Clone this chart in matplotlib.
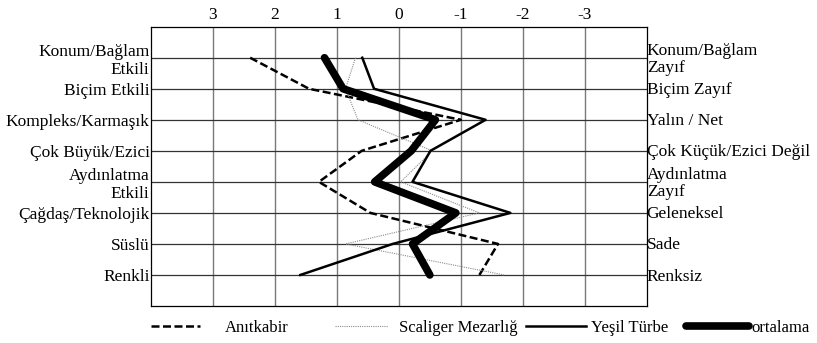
import matplotlib
matplotlib.use("Agg")
import matplotlib.pyplot as plt
import numpy as np

plt.rcParams.update({
    "font.family": ["Liberation Serif", "DejaVu Serif"],
    "font.size": 12.5,
})

LEFT_LABELS = ["Konum/Bağlam\nEtkili", "Biçim Etkili", "Kompleks/Karmaşık",
               "Çok Büyük/Ezici", "Aydınlatma\nEtkili", "Çağdaş/Teknolojik",
               "Süslü", "Renkli"]
RIGHT_LABELS = ["Konum/Bağlam\nZayıf", "Biçim Zayıf", "Yalın / Net",
                "Çok Küçük/Ezici Değil", "Aydınlatma\nZayıf", "Geleneksel",
                "Sade", "Renksiz"]
SCALE = [3, 2, 1, 0, -1, -2, -3]
SERIES = ["Anıtkabir", "Scaliger Mezarlığ", "Yeşil Türbe", "ortalama"]

# scores per adjective pair (positive = left adjective)
anitkabir = [2.40, 1.45, -1.00, 0.60, 1.29, 0.46, -1.60, -1.30]
scaliger  = [0.70, 0.86, 0.66, -0.54, -0.03, -1.30, 0.86, -1.70]
yesil     = [0.59, 0.40, -1.40, -0.51, -0.22, -1.80, 0.10, 1.59]
ortalama  = [1.20, 0.90, -0.59, -0.20, 0.39, -0.92, -0.22, -0.50]

rows = np.arange(1, len(LEFT_LABELS) + 1)

fig = plt.figure(figsize=(8.17, 3.43), dpi=100)
ax = fig.add_axes([151 / 817, 1 - 306 / 343, (646.7 - 151) / 817, (306 - 26.7) / 343])

ax.set_xlim(4, -4)
ax.set_ylim(9, 0)

for v in SCALE:
    ax.axvline(v, color="#7a7a7a", lw=1.0, zorder=0)
for r in rows:
    ax.axhline(r, color="#333333", lw=0.9, zorder=0)

l1, = ax.plot(anitkabir, rows, color="black", lw=1.8, ls=(0, (3.2, 1.4)))
l2, = ax.plot(scaliger, rows, color="#8c8c8c", lw=0.8, ls=(0, (1, 1)))
l3, = ax.plot(yesil, rows, color="black", lw=1.8)
l4, = ax.plot(ortalama, rows, color="black", lw=5.5, solid_capstyle="round")

ax.xaxis.tick_top()
ax.set_xticks(SCALE)
ax.set_xticklabels([str(v) for v in SCALE])
ax.tick_params(axis="x", length=0, pad=3)

ax.set_yticks(rows)
ax.set_yticklabels(LEFT_LABELS, ha="right", multialignment="right")
ax.tick_params(axis="y", length=0, pad=1)

for r, lab in zip(rows, RIGHT_LABELS):
    ax.text(1.0, r + 0.05, lab, transform=ax.get_yaxis_transform(),
            ha="left", va="center", linespacing=1.1)

for s in ax.spines.values():
    s.set_color("black")
    s.set_linewidth(0.9)

# legend entries spread along the bottom like the original
legend_place = [(151, 2.95, 1.5), (335, 3.2, 0.65), (526, 3.6, 0.3), (686, 3.8, 0.15)]
for handle, name, (x0, hl, tp) in zip([l1, l2, l3, l4], SERIES, legend_place):
    leg = fig.legend([handle], [name], loc="center left",
                     bbox_to_anchor=(x0 / 817, 1 - 328 / 343), frameon=False,
                     fontsize=12, handlelength=hl, handletextpad=tp,
                     borderaxespad=0, borderpad=0)

fig.savefig("out.png", dpi=100)
